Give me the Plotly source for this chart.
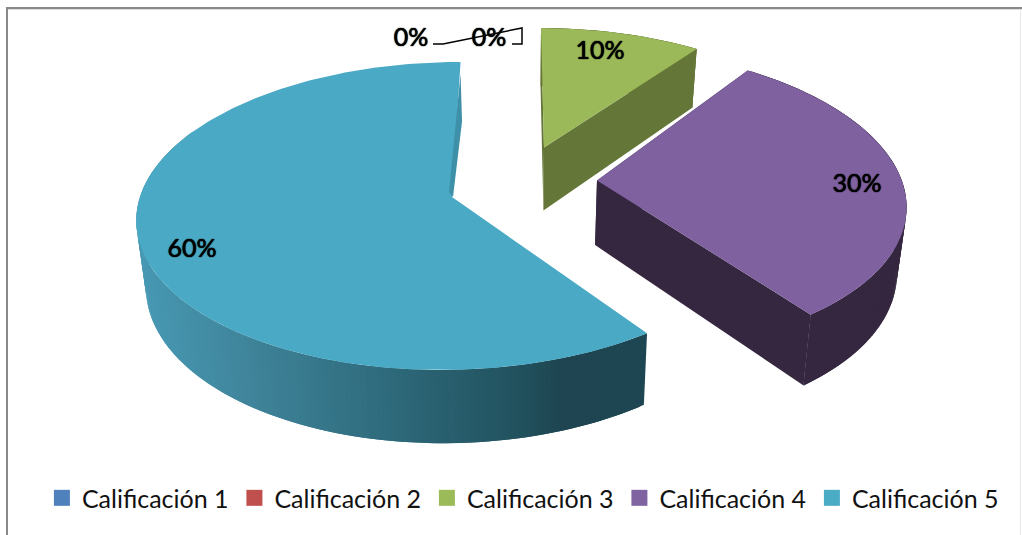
import numpy as np
import plotly.graph_objects as go

categories = ["Calificación 1", "Calificación 2", "Calificación 3", "Calificación 4", "Calificación 5"]
values = [0, 0, 10, 30, 60]

top_colors = ["#4F81BD", "#C0504D", "#9BBB59", "#8064A2", "#4BACC6"]
face_colors = ["#4A7DB8", "#BE4B48", "#9BB959", "#7F61A0", "#4AA9C5"]
wall_colors = [None, None, "#657738", "#35273F", None]
anchors = [None, None, (544, 147.5), (597, 180.5), (452, 197)]
offsets = [None, None, (0.10, 0.55), (0.45, 0.06), (-0.25, 0.0)]
radii_x = [None, None, 308.0, 307.0, 312.0]
label_pos = [(411, 40), (489, 40), (600, 53), (857, 186), (192, 251)]

RY, P = 151.7, 0.123
VX, SHRINK = 521.0, 0.975
D0, D1 = 56.4, 0.0455
FONT = "Lato"

grad_x = [140, 258, 396, 534, 568, 645]
grad_r = [0x48, 0x3F, 0x2E, 0x21, 0x1E, 0x1F]
grad_g = [0x99, 0x83, 0x6A, 0x50, 0x45, 0x47]
grad_b = [0xB4, 0x99, 0x7B, 0x5C, 0x51, 0x53]


def project(theta, anchor, off, rx):
    ax, ay = anchor
    ox, oy = off
    X = ox + np.sin(theta)
    Y = oy + np.cos(theta)
    w = 1 + P * Y
    w0 = 1 + P * oy
    return ax + rx * (X / w - ox / w0), ay - RY * (Y / w - oy / w0)


def down(x, y):
    return VX + (np.asarray(x) - VX) * SHRINK, np.asarray(y) + D0 + D1 * np.asarray(y)


def poly(fig, xs, ys, color):
    fig.add_trace(go.Scatter(x=list(xs), y=list(ys), mode="lines", fill="toself", fillcolor=color,
                             line=dict(color=color, width=0), showlegend=False, hoverinfo="skip"))


fig = go.Figure()
total = sum(values)
edges = np.cumsum([0] + values) / total * 2 * np.pi

for i in [2, 3, 4]:
    a0, a1 = edges[i], edges[i + 1]
    th = np.linspace(a0, a1, int(values[i] * 4) + 2)
    sx, sy = project(th, anchors[i], offsets[i], radii_x[i])
    bx, by = down(sx, sy)
    apx, apy = anchors[i]
    abx, aby = down(apx, apy)
    wall = wall_colors[i]
    if wall:
        poly(fig, [apx, sx[0], bx[0], abx], [apy, sy[0], by[0], aby], wall)
        poly(fig, [apx, sx[-1], bx[-1], abx], [apy, sy[-1], by[-1], aby], wall)
    # outer wall as overlapping strips, so that no seams or notches show
    n = len(th)
    for k in range(n - 2, -1, -1):
        if not wall and k > n * 0.7:
            continue
        j = min(k + 2, n - 1)
        if wall:
            col = wall
        else:
            m = (sx[k] + sx[k + 1]) / 2
            col = "rgb(%d,%d,%d)" % (np.interp(m, grad_x, grad_r), np.interp(m, grad_x, grad_g), np.interp(m, grad_x, grad_b))
        idx = np.arange(k, j + 1)
        poly(fig, list(sx[idx]) + list(bx[idx][::-1]), list(sy[idx]) + list(by[idx][::-1]), col)
    # top face
    poly(fig, [apx] + list(sx), [apy] + list(sy), face_colors[i])
    if not wall:
        # sliver of the closing wall seen at the end of the slice
        poly(fig, [sx[-1], bx[-1], apx + 1, apx - 3], [sy[-1] + 12, by[-1], apy, apy - 5], "#3E8FA8")

# leader lines of the zero slices
fig.add_trace(go.Scatter(x=[433, 443, 522, 522, 512], y=[44, 44, 28, 44, 44], mode="lines",
                         line=dict(color="#000000", width=1.5), showlegend=False, hoverinfo="skip"))

# labels
fig.add_trace(go.Scatter(x=[p[0] for p in label_pos], y=[p[1] for p in label_pos], mode="text",
                         text=[f"{v}%" for v in values],
                         textfont=dict(family=FONT, size=25, color="#000000",
                                       shadow="0 0 1px #000000, 0 0 1px #000000"),
                         textposition="middle center", showlegend=False, hoverinfo="skip"))

# legend
for name, col in zip(categories, top_colors):
    fig.add_trace(go.Scatter(x=[None], y=[None], mode="markers", name=name,
                             marker=dict(symbol="square", size=16, color=col)))

fig.update_layout(
    width=1022, height=535, margin=dict(l=0, r=0, t=0, b=0),
    paper_bgcolor="#FFFFFF", plot_bgcolor="#FFFFFF",
    xaxis=dict(range=[0, 1022], visible=False, fixedrange=True),
    yaxis=dict(range=[535, 0], visible=False, fixedrange=True),
    legend=dict(orientation="h", x=0.041, xanchor="left", y=0.069, yanchor="middle",
                entrywidth=147.5, entrywidthmode="pixels", itemsizing="trace",
                font=dict(family=FONT, size=25, color="#111111"), bgcolor="rgba(0,0,0,0)"),
    shapes=[
        dict(type="line", x0=6, x1=1022, y0=9.5, y1=9.5, line=dict(color="#DDDDDD", width=1)),
        dict(type="line", x0=6, x1=1022, y0=8, y1=8, line=dict(color="#898989", width=2)),
        dict(type="line", x0=7, x1=7, y0=7, y1=535, line=dict(color="#898989", width=2)),
        dict(type="line", x0=1020.5, x1=1020.5, y0=9, y1=535, line=dict(color="#E8E8E8", width=1)),
    ],
)

fig.write_html("out.html", config={"displayModeBar": False},
               post_script="document.body.style.margin='0';document.body.style.overflow='hidden';")
